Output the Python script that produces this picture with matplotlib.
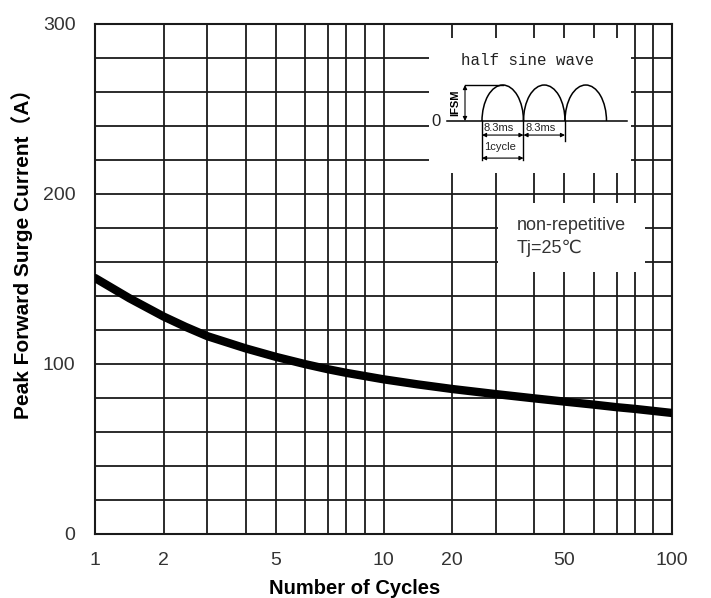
import numpy as np
import matplotlib
matplotlib.use('Agg')
import matplotlib.pyplot as plt
from matplotlib.patches import Arc

plt.rcParams['font.family'] = ['Liberation Sans', 'DejaVu Sans', 'Noto Sans CJK SC']

# surge curve
cycles = [1, 1.5, 2, 2.5, 3, 3.5, 4, 5, 6, 7, 8, 10, 15, 20, 30, 40, 50, 60, 70, 80, 100]
ifsm = [150.6, 138.7, 127.9, 121.9, 116.4, 112.8, 109.2, 104.2, 99.9, 96.9, 94.8,
        91.0, 88.0, 85.3, 82.3, 79.8, 77.9, 76.1, 74.6, 73.6, 71.2]

x_ticks = [1, 2, 5, 10, 20, 50, 100]
y_ticks = [0, 100, 200, 300]

# the printed grid is not a true log grid: fraction of a decade where
# each mantissa 1..10 sits on the original paper
grid_mant = [1, 2, 3, 4, 5, 6, 7, 8, 9, 10]
grid_frac = [0.0, 0.238, 0.389, 0.522, 0.627, 0.729, 0.808, 0.871, 0.935, 1.0]

half_period_ms = 8.3


def fwd(x):
    x = np.asarray(x, dtype=float)
    lx = np.log10(np.clip(x, 1e-9, None))
    d = np.floor(lx + 1e-12)
    m = 10 ** (lx - d)
    return d + np.interp(m, grid_mant, grid_frac)


def inv(y):
    y = np.asarray(y, dtype=float)
    d = np.floor(y + 1e-12)
    m = np.interp(y - d, grid_frac, grid_mant)
    return 10 ** d * m


fig = plt.figure(figsize=(7.11, 5.98), dpi=100)
ax = fig.add_axes([95 / 711, 64 / 598, 577 / 711, 510 / 598])
ax.set_xscale('function', functions=(fwd, inv))
ax.set_xlim(1, 100)
ax.set_ylim(0, 300)

minor_x = [m * 10 ** d for d in (0, 1) for m in grid_mant]
ax.set_xticks(x_ticks)
ax.set_xticklabels([str(v) for v in x_ticks])
ax.set_xticks(minor_x, minor=True)
ax.set_yticks(y_ticks)
ax.set_yticks(np.arange(0, 301, 20), minor=True)
ax.tick_params(which='both', length=0)
ax.tick_params(axis='x', pad=13, labelsize=14, labelcolor='#333333')
ax.tick_params(axis='y', pad=14, labelsize=14, labelcolor='#333333')
ax.grid(True, which='both', color='#1a1a1a', linewidth=1.3)
for sp in ax.spines.values():
    sp.set_linewidth(1.5)
    sp.set_color('#1a1a1a')

ax.plot(cycles, ifsm, color='black', linewidth=6, solid_capstyle='round',
        solid_joinstyle='round', zorder=3)

ax.set_xlabel('Number of Cycles', fontsize=14.5, fontweight='bold')
ax.xaxis.set_label_coords((355 - 95) / 577, (534 - 579) / 510)
ax.set_ylabel('Peak Forward Surge Current（A）', fontsize=15, fontweight='bold')
ax.yaxis.set_label_coords((33 - 95) / 577, (534 - 249) / 510)

# inset with the half sine wave sketch
ins = fig.add_axes([429 / 711, (598 - 173) / 598, 202 / 711, 135 / 598], facecolor='white')
ins.set_xlim(-10.6, 29.8)
ins.set_ylim(-1.444, 2.306)
ins.set_xticks([])
ins.set_yticks([])
for sp in ins.spines.values():
    sp.set_visible(False)

for k in range(3):
    ins.add_patch(Arc(((k + 0.5) * half_period_ms, 0), half_period_ms, 2,
                      theta1=0, theta2=180, color='black', lw=1.1))
ins.plot([-7, 29], [0, 0], color='black', lw=1.1)
ins.text(-8.3, 0, '0', ha='right', va='center', fontsize=12, color='#222222')
ins.text(9.2, 1.69, 'half sine wave', ha='center', va='center',
         fontsize=11.4, family='Liberation Mono', color='#222222')

arw = dict(arrowstyle='<|-|>', color='black', lw=0.8, mutation_scale=6,
           shrinkA=0, shrinkB=0)
ins.plot([-3.4, half_period_ms / 2], [1, 1], color='black', lw=1.0)
ins.annotate('', xy=(-3.4, 1), xytext=(-3.4, 0), arrowprops=arw)
ins.text(-5.3, 0.5, 'IFSM', rotation=90, ha='center', va='center',
         fontsize=8, fontweight='bold')

ins.plot([0, 0], [0, -1.08], color='black', lw=1.0)
ins.plot([half_period_ms, half_period_ms], [0, -1.08], color='black', lw=1.0)
ins.plot([2 * half_period_ms] * 2, [0, -0.55], color='black', lw=1.0)
ins.annotate('', xy=(0, -0.39), xytext=(half_period_ms, -0.39), arrowprops=arw)
ins.annotate('', xy=(half_period_ms, -0.39), xytext=(2 * half_period_ms, -0.39),
             arrowprops=arw)
ins.annotate('', xy=(0, -1.03), xytext=(half_period_ms, -1.03), arrowprops=arw)
for k in range(2):
    ins.text(k * half_period_ms + 0.4, -0.2, f'{half_period_ms}ms', ha='left',
             va='center', fontsize=8, color='#222222')
ins.text(0.4, -0.72, '1cycle', ha='left', va='center', fontsize=8, color='#222222')

# note box
note = fig.add_axes([498 / 711, (598 - 272) / 598, 147 / 711, 69 / 598], facecolor='white')
note.set_xticks([])
note.set_yticks([])
for sp in note.spines.values():
    sp.set_visible(False)
note.text(0.13, 0.68, 'non-repetitive', ha='left', va='center', fontsize=13,
          color='#333333', transform=note.transAxes)
note.text(0.13, 0.35, 'Tj=25℃', ha='left', va='center', fontsize=13,
          color='#333333', transform=note.transAxes)

fig.savefig('out.png', dpi=100)
